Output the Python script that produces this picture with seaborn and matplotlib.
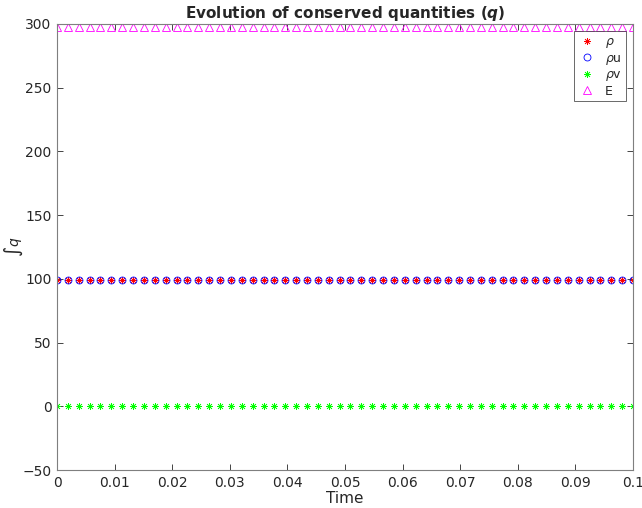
# -*- coding: utf-8 -*-
"""
Evolution of conserved quantities (q): integrated rho, rho*u, rho*v and E over time
"""

import numpy as np
import pandas as pd
import matplotlib
matplotlib.use('Agg')
import matplotlib.pyplot as plt
import seaborn as sns

# ==================== data ====================
# 54 output times between 0 and 0.1 (constant step ~0.00189)
time = [0.0, 0.00189, 0.00377, 0.00566, 0.00755, 0.00943, 0.01132, 0.01321, 0.01509,
        0.01698, 0.01887, 0.02075, 0.02264, 0.02453, 0.02642, 0.0283, 0.03019, 0.03208,
        0.03396, 0.03585, 0.03774, 0.03962, 0.04151, 0.0434, 0.04528, 0.04717, 0.04906,
        0.05094, 0.05283, 0.05472, 0.0566, 0.05849, 0.06038, 0.06226, 0.06415, 0.06604,
        0.06792, 0.06981, 0.0717, 0.07358, 0.07547, 0.07736, 0.07925, 0.08113, 0.08302,
        0.08491, 0.08679, 0.08868, 0.09057, 0.09245, 0.09434, 0.09623, 0.09811, 0.1]

rho = [99.0, 99.0, 99.0, 99.0, 99.0, 99.0, 99.0, 99.0, 99.0, 99.0, 99.0, 99.0, 99.0, 99.0,
       99.0, 99.0, 99.0, 99.0, 99.0, 99.0, 99.0, 99.0, 99.0, 99.0, 99.0, 99.0, 99.0, 99.0,
       99.0, 99.0, 99.0, 99.0, 99.0, 99.0, 99.0, 99.0, 99.0, 99.0, 99.0, 99.0, 99.0, 99.0,
       99.0, 99.0, 99.0, 99.0, 99.0, 99.0, 99.0, 99.0, 99.0, 99.0, 99.0, 99.0]

rho_u = [99.0, 99.0, 99.0, 99.0, 99.0, 99.0, 99.0, 99.0, 99.0, 99.0, 99.0, 99.0, 99.0, 99.0,
         99.0, 99.0, 99.0, 99.0, 99.0, 99.0, 99.0, 99.0, 99.0, 99.0, 99.0, 99.0, 99.0, 99.0,
         99.0, 99.0, 99.0, 99.0, 99.0, 99.0, 99.0, 99.0, 99.0, 99.0, 99.0, 99.0, 99.0, 99.0,
         99.0, 99.0, 99.0, 99.0, 99.0, 99.0, 99.0, 99.0, 99.0, 99.0, 99.0, 99.0]

rho_v = [0.0, 0.0, 0.0, 0.0, 0.0, 0.0, 0.0, 0.0, 0.0, 0.0, 0.0, 0.0, 0.0, 0.0,
         0.0, 0.0, 0.0, 0.0, 0.0, 0.0, 0.0, 0.0, 0.0, 0.0, 0.0, 0.0, 0.0, 0.0,
         0.0, 0.0, 0.0, 0.0, 0.0, 0.0, 0.0, 0.0, 0.0, 0.0, 0.0, 0.0, 0.0, 0.0,
         0.0, 0.0, 0.0, 0.0, 0.0, 0.0, 0.0, 0.0, 0.0, 0.0, 0.0, 0.0]

energy = [297.8, 297.8, 297.8, 297.8, 297.8, 297.8, 297.8, 297.8, 297.8, 297.8, 297.8,
          297.8, 297.8, 297.8, 297.8, 297.8, 297.8, 297.8, 297.8, 297.8, 297.8, 297.8,
          297.8, 297.8, 297.8, 297.8, 297.8, 297.8, 297.8, 297.8, 297.8, 297.8, 297.8,
          297.8, 297.8, 297.8, 297.8, 297.8, 297.8, 297.8, 297.8, 297.8, 297.8, 297.8,
          297.8, 297.8, 297.8, 297.8, 297.8, 297.8, 297.8, 297.8, 297.8, 297.8]

series_labels = [r'$\rho$', r'$\rho$u', r'$\rho$v', 'E']
x_ticks = [0, 0.01, 0.02, 0.03, 0.04, 0.05, 0.06, 0.07, 0.08, 0.09, 0.1]
x_tick_labels = ['0', '0.01', '0.02', '0.03', '0.04', '0.05', '0.06', '0.07', '0.08', '0.09', '0.1']
y_ticks = [-50, 0, 50, 100, 150, 200, 250, 300]

df = pd.DataFrame({'Time': time, 'rho': rho, 'rho_u': rho_u, 'rho_v': rho_v, 'E': energy})

# ==================== style ====================
sns.set_style('ticks')
plt.rcParams['font.family'] = ['DejaVu Sans']
plt.rcParams['mathtext.fontset'] = 'dejavusans'

fig = plt.figure(figsize=(6.42, 5.08), dpi=100)
ax = fig.add_axes([0.0888, 0.0748, 0.8972, 0.878])

# MATLAB-like markers: '*' red, 'o' blue, '*' green, '^' magenta
asterisk = (8, 2, 0)
sns.lineplot(data=df, x='Time', y='rho', ax=ax, linestyle='', marker=asterisk,
             color='red', markeredgecolor='red', markersize=5, markeredgewidth=0.5,
             label=series_labels[0])
sns.lineplot(data=df, x='Time', y='rho_u', ax=ax, linestyle='', marker='o',
             markerfacecolor='none', markeredgecolor='blue', color='blue',
             markersize=5, markeredgewidth=0.6, label=series_labels[1])
sns.lineplot(data=df, x='Time', y='rho_v', ax=ax, linestyle='', marker=asterisk,
             color='#00ff00', markeredgecolor='#00ff00', markersize=5, markeredgewidth=0.5,
             label=series_labels[2])
sns.lineplot(data=df, x='Time', y='E', ax=ax, linestyle='', marker='^',
             markerfacecolor='none', markeredgecolor='magenta', color='magenta',
             markersize=5.5, markeredgewidth=0.6, label=series_labels[3])

# ==================== axes ====================
ax.set_xlim(0, 0.1)
ax.set_ylim(-50, 300)
ax.set_xticks(x_ticks)
ax.set_xticklabels(x_tick_labels)
ax.set_yticks(y_ticks)
ax.tick_params(direction='in', top=True, right=True, length=4, width=0.6,
               colors='#262626', labelsize=10, pad=4)
for side in ['top', 'right', 'bottom', 'left']:
    ax.spines[side].set_visible(True)
    ax.spines[side].set_color('#7f7f7f')
    ax.spines[side].set_linewidth(0.8)

ax.set_xlabel('Time', fontsize=11, color='#262626', labelpad=1)
ax.set_ylabel(r'$\int q$', fontsize=10, color='#262626')
ax.yaxis.set_label_coords(-0.055, 0.5)
ax.set_title(r'Evolution of conserved quantities ($\mathbfit{q}$)',
             fontsize=11, fontweight='bold', pad=4)

leg = ax.legend(loc='upper right', fontsize=9, frameon=True, fancybox=False,
                edgecolor='#262626', borderpad=0.3, handletextpad=0.6,
                labelspacing=0.12, handlelength=1.6, borderaxespad=0.6)
leg.get_frame().set_linewidth(0.6)

plt.savefig('out.png', dpi=100)
